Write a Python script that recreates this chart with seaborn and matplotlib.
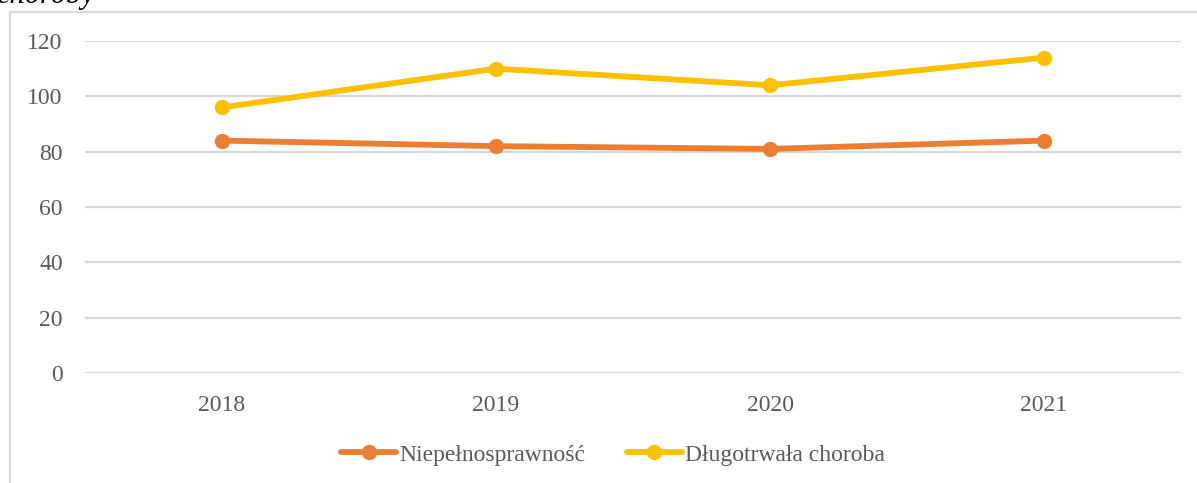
import pandas as pd
import matplotlib.pyplot as plt
import seaborn as sns
from matplotlib.patches import Rectangle

# Data
years = ["2018", "2019", "2020", "2021"]
niepelnosprawnosc = [84, 82, 81, 84]
dlugotrwala_choroba = [96, 110, 104, 114]
series_names = ["Niepełnosprawność", "Długotrwała choroba"]
colors = ["#ED7D31", "#FFC000"]
y_ticks = [0, 20, 40, 60, 80, 100, 120]

df = pd.DataFrame({
    "Rok": years * 2,
    "Wartość": niepelnosprawnosc + dlugotrwala_choroba,
    "Seria": [series_names[0]] * len(years) + [series_names[1]] * len(years),
})

sns.set_theme(style="white")
plt.rcParams["font.family"] = ["Liberation Serif", "DejaVu Serif"]

W, H = 1197, 483
fig = plt.figure(figsize=(W / 100, H / 100), dpi=100)
ax = fig.add_axes([85 / W, 1 - 373 / H, (1181 - 85) / W, (373 - 41) / H])

sns.lineplot(
    data=df, x="Rok", y="Wartość", hue="Seria", hue_order=series_names,
    palette=colors, marker="o", markersize=11, markeredgewidth=0,
    linewidth=4.2, legend=False, ax=ax, clip_on=False,
)

ax.set_xlim(-0.5, len(years) - 0.5)
ax.set_ylim(0, 120)
ax.set_yticks(y_ticks)
ax.set_xlabel("")
ax.set_ylabel("")
ax.yaxis.grid(True, color="#D9D9D9", linewidth=1.6)
ax.set_axisbelow(True)
for s in ax.spines.values():
    s.set_visible(False)
ax.tick_params(axis="both", length=0, labelsize=17, labelcolor="#595959")
ax.tick_params(axis="y", pad=16)
ax.tick_params(axis="x", pad=16)

ax.legend(
    handles=ax.lines[:2], labels=series_names, loc="center",
    bbox_to_anchor=(613 / W, 1 - 455 / H), bbox_transform=fig.transFigure,
    ncol=2, frameon=False, fontsize=17, handlelength=2.35,
    handletextpad=0.13, columnspacing=1.75, labelcolor="#595959",
)

# chart frame (cut off at the right and bottom in the reference)
fig.patches.append(Rectangle((10 / W, -0.1), 1.2, 1 - 12 / H + 0.1,
                             transform=fig.transFigure, fill=False,
                             edgecolor="#D9D9D9", linewidth=1.6))

# partially visible caption above the chart (cut off at the top, as in the reference)
fig.text(-4 / W, 1 - 3 / H, "choroby", style="italic", fontsize=22,
         va="baseline", ha="left", color="black")

fig.savefig("out.png", dpi=100)
